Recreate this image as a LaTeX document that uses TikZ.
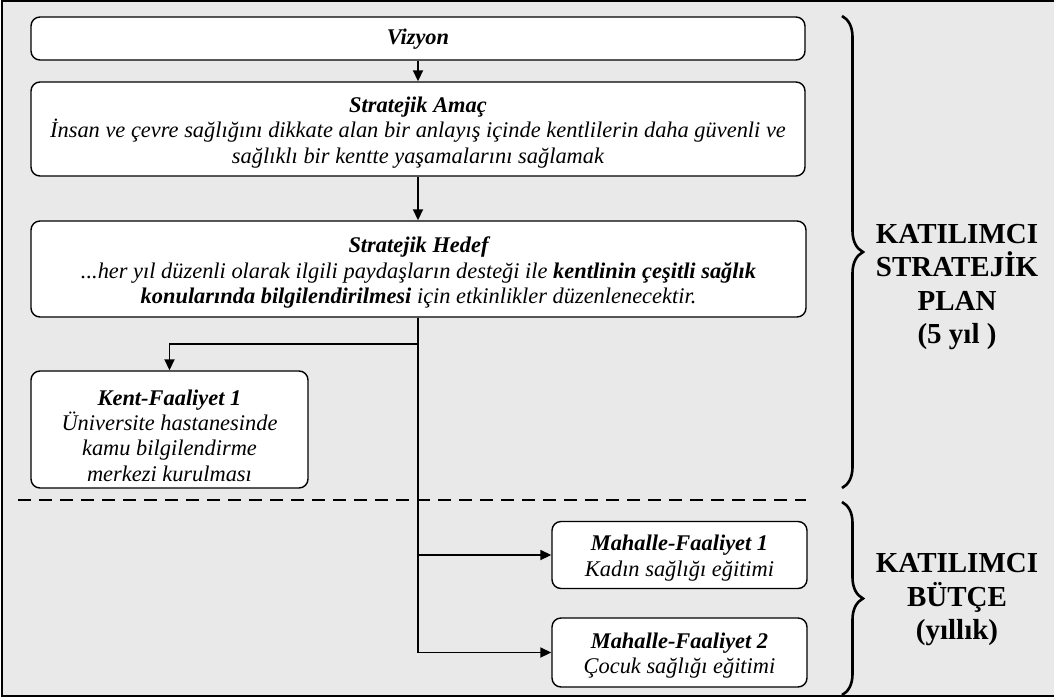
\documentclass[tikz,border=0pt]{standalone}
\usepackage{fontspec}
\setmainfont{Liberation Serif}
\usetikzlibrary{arrows.meta,decorations.pathreplacing}
\definecolor{bgc}{RGB}{233,233,233}
\begin{document}
\begin{tikzpicture}[x=1pt,y=-1pt,
  box/.style={draw=black, line width=1.4pt, fill=white, rounded corners=9pt, inner sep=0pt},
  txt/.style={align=center, inner sep=0pt, font=\fontsize{22.4}{25.3}\selectfont\itshape},
  conn/.style={line width=1.8pt, -{Triangle[length=11pt,width=10pt]}},
  seg/.style={line width=1.8pt},
  brc/.style={decorate, decoration={brace, amplitude=21pt}, line width=2.6pt},
  side/.style={align=center, font=\fontsize{29}{33.5}\selectfont\bfseries},
  dline/.style={line width=2.8pt, dash pattern=on 13pt off 8pt}
]
\useasboundingbox (0,0) rectangle (1054,699);
\fill[bgc] (2,1) rectangle (1054,696);
\draw[line width=2pt] (1054,1) -- (2,1) -- (2,696) -- (1054,696);

% boxes
\node[box, minimum width=774pt, minimum height=43pt] (viz) at (418,38.5) {};
\node[box, minimum width=774pt, minimum height=94pt] (amac) at (418,129) {};
\node[box, minimum width=775pt, minimum height=96pt] (hedef) at (418.5,269) {};
\node[box, minimum width=277pt, minimum height=117pt] (kent) at (169.5,429.5) {};
\node[box, minimum width=255pt, minimum height=67pt] (mah1) at (679.5,555) {};
\node[box, minimum width=255pt, minimum height=69pt] (mah2) at (679.5,652.5) {};

% texts
\node[txt] (vizT) at (418,39.5) {\textbf{Vizyon}};
\node[txt] (amacT) at (418,132.5) {\textbf{Stratejik Amaç}\\
  İnsan ve çevre sağlığını dikkate alan bir anlayış içinde kentlilerin daha güvenli ve\\
  sağlıklı bir kentte yaşamalarını sağlamak};
\node[txt] (hedefT) at (418.5,272.5) {\textbf{Stratejik Hedef}\\
  ...her yıl düzenli olarak ilgili paydaşların desteği ile \textbf{kentlinin çeşitli sağlık}\\
  \textbf{konularında bilgilendirilmesi} için etkinlikler düzenlenecektir.};
\node[txt] (kentT) at (169.5,435.5) {\textbf{Kent-Faaliyet 1}\\
  Üniversite hastanesinde\\ kamu bilgilendirme\\ merkezi kurulması};
\node[txt] (mah1T) at (679.5,558) {\textbf{Mahalle-Faaliyet 1}\\
  Kadın sağlığı eğitimi};
\node[txt] (mah2T) at (679.5,655.5) {\textbf{Mahalle-Faaliyet 2}\\
  Çocuk sağlığı eğitimi};

% connectors
\coordinate (j1) at (418,344);
\draw[conn] (viz.south -| 418,0) -- (amac.north -| 418,0);
\draw[conn] (amac.south -| 418,0) -- (hedef.north -| 418,0);
\draw[seg] (hedef.south -| 418,0) -- (j1 |- mah2.west);
\draw[conn] (j1) -| (kent.north);
\draw[conn] (j1 |- mah1.west) -- (mah1.west);
\draw[conn] (j1 |- mah2.west) -- (mah2.west);

% dashed separator
\coordinate (dl) at (18,500);
\coordinate (dr) at (806,500);
\draw[dline] (dl) -- (dr);

% braces
\coordinate (b1t) at (842,16);
\coordinate (b1b) at (842,488);
\coordinate (b2t) at (842,502);
\coordinate (b2b) at (842,695);
\draw[brc] (b1t) -- (b1b);
\draw[brc] (b2t) -- (b2b);

\node[side] (plan) at (957,287) {KATILIMCI\\STRATEJİK\\PLAN\\(5 yıl )};
\node[side] (butce) at (957,600) {KATILIMCI\\BÜTÇE\\(yıllık)};
\end{tikzpicture}
\end{document}
